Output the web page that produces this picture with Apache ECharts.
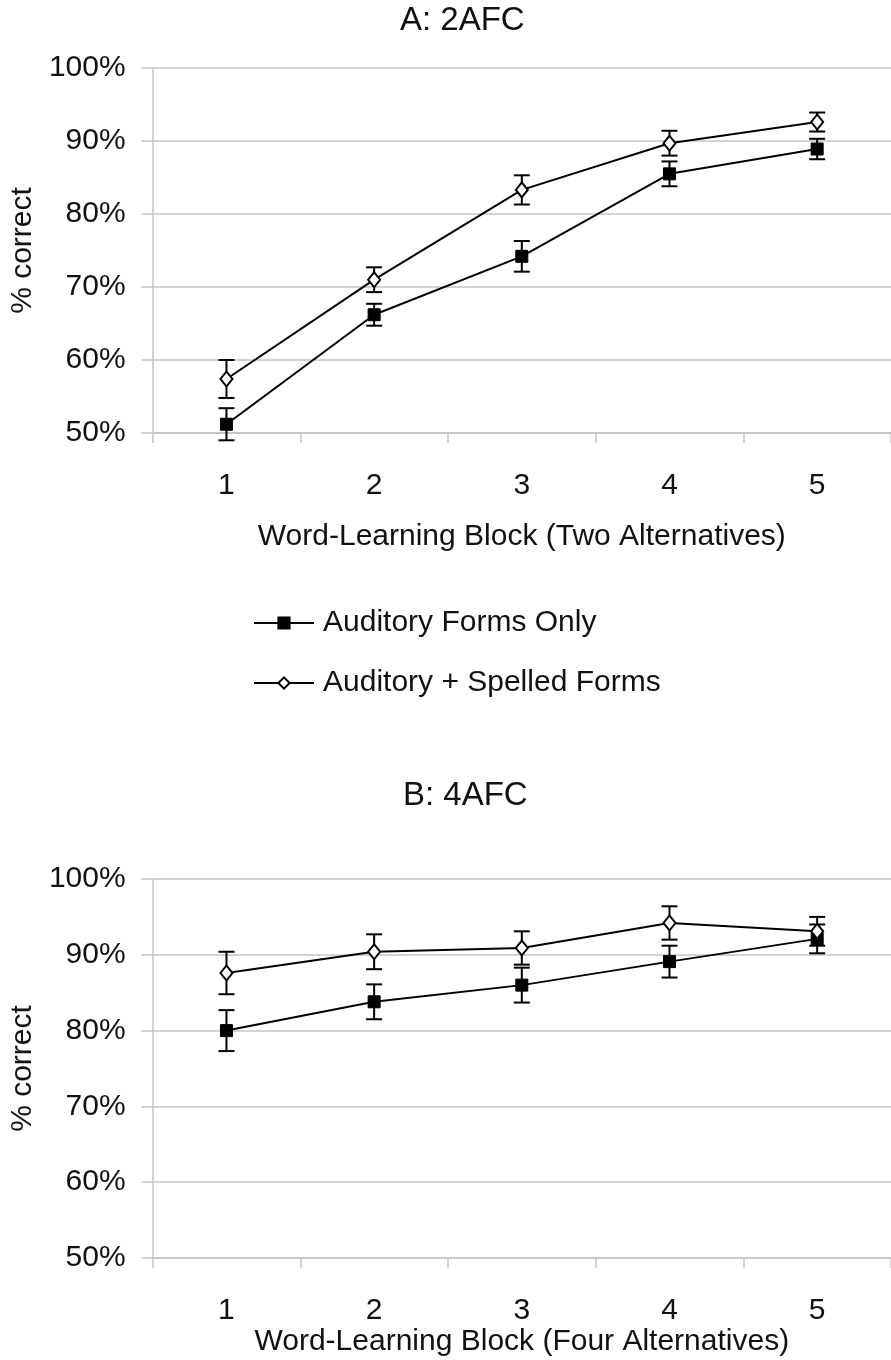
<!DOCTYPE html>
<html>
<head>
<meta charset="utf-8">
<script src="https://cdn.jsdelivr.net/npm/echarts@6/dist/echarts.min.js"></script>
<style>
html,body{margin:0;padding:0;background:#fff;}
#chart{width:891px;height:1360px;}
</style>
</head>
<body>
<div id="chart"></div>
<script>
// ---- data ----
const categories = ['1', '2', '3', '4', '5'];
const yTicks = [50, 60, 70, 80, 90, 100];
const seriesNames = ['Auditory Forms Only', 'Auditory + Spelled Forms'];

// Panel A: 2AFC
const a_audMean = [51.2, 66.2, 74.2, 85.5, 88.9];
const a_audErr  = [2.2, 1.5, 2.1, 1.7, 1.4];
const a_splMean = [57.4, 71.0, 83.3, 89.7, 92.6];
const a_splErr  = [2.6, 1.7, 2.0, 1.7, 1.3];

// Panel B: 4AFC
const b_audMean = [80.0, 83.8, 86.0, 89.1, 92.1];
const b_audErr  = [2.7, 2.3, 2.3, 2.1, 1.9];
const b_splMean = [87.6, 90.4, 90.9, 94.2, 93.1];
const b_splErr  = [2.8, 2.3, 2.2, 2.2, 1.9];

const titles = ['A: 2AFC', 'B: 4AFC'];
const xNames = ['Word-Learning Block (Two Alternatives)', 'Word-Learning Block (Four Alternatives)'];
const yName = '% correct';

// ---- styling ----
const FONT = '"Liberation Sans", Arial, sans-serif';
const TXT = '#111';
const GRID = '#c4c4c4';

function errData(mean, err) {
  return mean.map((m, i) => [i, m - err[i], m + err[i]]);
}

function errSeries(mean, err, idx) {
  return {
    type: 'custom',
    xAxisIndex: idx, yAxisIndex: idx,
    data: errData(mean, err),
    encode: { x: 0, y: [1, 2] },
    clip: false,
    z: 3,
    silent: true,
    renderItem: function (params, api) {
      const x = api.value(0);
      const top = api.coord([x, api.value(2)]);
      const bot = api.coord([x, api.value(1)]);
      const w = 8;
      const st = { stroke: '#000', lineWidth: 2 };
      return {
        type: 'group',
        children: [
          { type: 'line', shape: { x1: top[0], y1: top[1], x2: bot[0], y2: bot[1] }, style: st },
          { type: 'line', shape: { x1: top[0] - w, y1: top[1], x2: top[0] + w, y2: top[1] }, style: st },
          { type: 'line', shape: { x1: bot[0] - w, y1: bot[1], x2: bot[0] + w, y2: bot[1] }, style: st }
        ]
      };
    }
  };
}

function lineSeries(name, mean, idx, filled) {
  return {
    name: name,
    type: 'line',
    xAxisIndex: idx, yAxisIndex: idx,
    data: mean,
    symbol: filled ? 'rect' : 'diamond',
    symbolSize: filled ? 12 : [12, 15],
    lineStyle: { color: '#000', width: 2 },
    itemStyle: filled ? { color: '#000', borderColor: '#000', borderWidth: 1 }
                      : { color: '#fff', borderColor: '#000', borderWidth: 2 },
    z: 5,
    animation: false
  };
}

const grids = [
  { left: 146, width: 750, top: 68, height: 365 },
  { left: 146, width: 750, top: 879, height: 379 }
];
const nameGaps = [89, 68];

const xAxes = grids.map((g, i) => ({
  type: 'category',
  gridIndex: i,
  data: categories,
  boundaryGap: true,
  name: xNames[i],
  nameLocation: 'middle',
  nameGap: nameGaps[i],
  nameTextStyle: { fontFamily: FONT, fontSize: 30, color: TXT },
  axisLine: { show: true, lineStyle: { color: GRID, width: 1.5 } },
  axisTick: { show: true, length: 10, interval: 0, lineStyle: { color: GRID, width: 1.5 } },
  axisLabel: { fontFamily: FONT, fontSize: 30, color: TXT, margin: 38 },
  splitLine: { show: false }
}));

const yAxes = grids.map((g, i) => ({
  type: 'value',
  gridIndex: i,
  min: yTicks[0],
  max: yTicks[yTicks.length - 1],
  interval: 10,
  name: yName,
  nameLocation: 'middle',
  nameGap: 107,
  nameRotate: 90,
  nameTextStyle: { fontFamily: FONT, fontSize: 30, color: TXT },
  axisLine: { show: true, lineStyle: { color: GRID, width: 1.5 } },
  axisTick: { show: true, length: 11, lineStyle: { color: GRID, width: 1.5 } },
  axisLabel: { fontFamily: FONT, fontSize: 30, color: TXT, margin: 27, formatter: '{value}%' },
  splitLine: { show: true, lineStyle: { color: GRID, width: 1.5 } }
}));

const legendCommon = {
  orient: 'horizontal',
  left: 253,
  itemWidth: 60,
  itemHeight: 14,
  padding: 0,
  selectedMode: false,
  textStyle: { fontFamily: FONT, fontSize: 30, color: TXT, lineHeight: 30, padding: [0, 0, 0, 4] },
  itemGap: 0
};

const option = {
  animation: false,
  backgroundColor: '#fff',
  title: [
    { text: titles[0], left: 400, top: 4, padding: 0, textStyle: { fontFamily: FONT, fontSize: 33, fontWeight: 'normal', color: TXT } },
    { text: titles[1], left: 403, top: 779, padding: 0, textStyle: { fontFamily: FONT, fontSize: 33, fontWeight: 'normal', color: TXT } }
  ],
  legend: [
    Object.assign({}, legendCommon, { data: [seriesNames[0]], top: 608 }),
    Object.assign({}, legendCommon, { data: [seriesNames[1]], top: 668 })
  ],
  grid: grids,
  xAxis: xAxes,
  yAxis: yAxes,
  series: [
    errSeries(a_audMean, a_audErr, 0),
    errSeries(a_splMean, a_splErr, 0),
    lineSeries(seriesNames[0], a_audMean, 0, true),
    lineSeries(seriesNames[1], a_splMean, 0, false),
    errSeries(b_audMean, b_audErr, 1),
    errSeries(b_splMean, b_splErr, 1),
    lineSeries(seriesNames[0], b_audMean, 1, true),
    lineSeries(seriesNames[1], b_splMean, 1, false)
  ]
};

const chart = echarts.init(document.getElementById('chart'), null, { renderer: 'canvas' });
chart.setOption(option);
</script>
</body>
</html>
